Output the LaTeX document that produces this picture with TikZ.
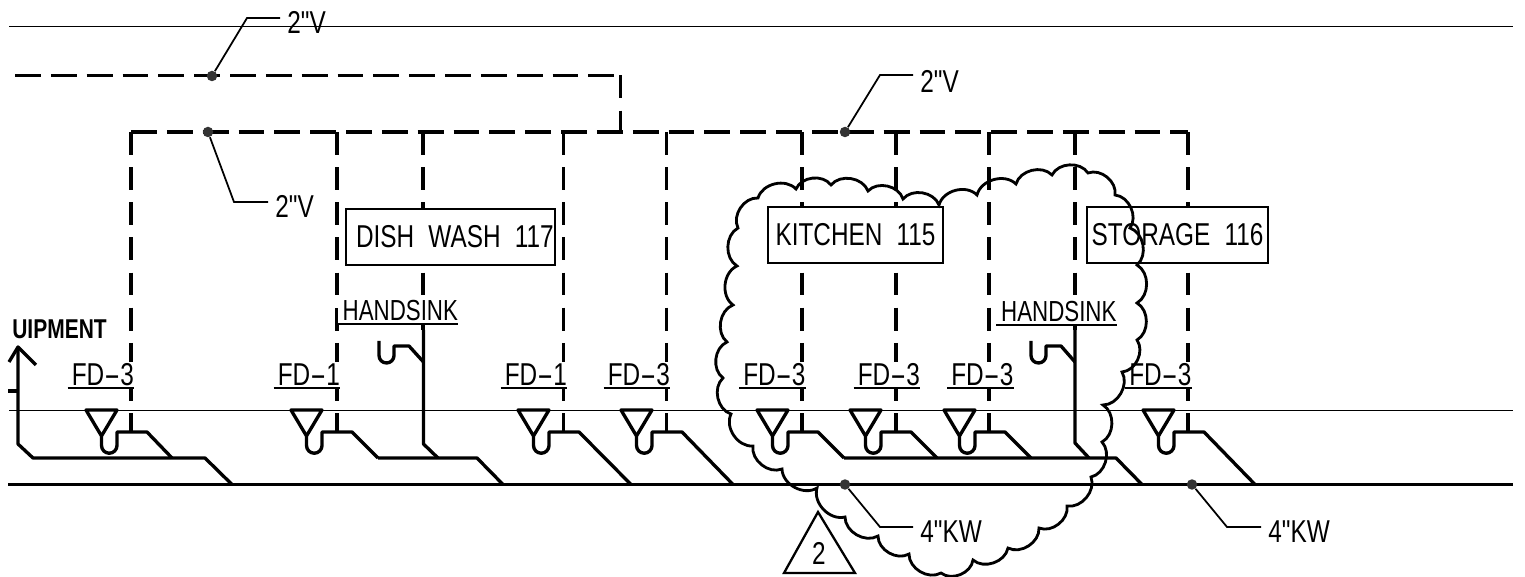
\documentclass[tikz,border=0pt]{standalone}
\usepackage{fontspec}
\usepackage{tikz}
\newfontfamily\cadfont[FakeStretch=0.77,WordSpace=2.1]{Liberation Sans}
\tikzset{
    thinline/.style={line width=0.5pt},
    vent/.style={line width=1.75pt, dash pattern=on 13pt off 7pt},
    ventrun/.style={line width=1.75pt, dash pattern=on 14.7pt off 5.7pt},
    pipe/.style={line width=1.9pt, line join=round},
    mainpipe/.style={line width=2.1pt},
    leader/.style={line width=1pt},
    cloudline/.style={line width=1.6pt, line join=miter},
    roombox/.style={shape=rectangle, draw=black, line width=1.2pt, fill=white, inner sep=0pt, font=\cadfont\fontsize{18}{20}\selectfont, minimum height=1.12cm},
    fdlabel/.style={fill=white, inner sep=0pt, font=\cadfont\fontsize{18}{20}\selectfont, text width=1.32cm, align=right, minimum height=0.52cm},
    sinklabel/.style={fill=white, inner sep=0pt, font=\cadfont\fontsize{16.5}{20}\selectfont, text width=2.4cm, align=right, minimum height=0.52cm},
    sizelabel/.style={inner sep=4pt, anchor=west, font=\cadfont\fontsize{18}{20}\selectfont},
    pipedot/.style={shape=circle, fill=black!80, inner sep=0pt, minimum size=0.21cm},
    underrule/.style={line width=1.1pt}
}
\begin{document}
\begin{tikzpicture}[x=0.02cm, y=-0.02cm]
    \useasboundingbox (0,0) rectangle (1525,577);
    \draw[thinline] (9,26) -- (1513,26);
    \draw[thinline] (9,410) -- (1513,410);
    \draw[ventrun] (15,75.5) -- (620.5,75.5);
    \draw[vent] (620.5,75.5) -- (620.5,132);
    \draw[ventrun] (131,132) -- (1188,132);
    \draw[vent] (131,132) -- (131,432);
    \draw[vent] (337,132) -- (337,432);
    \draw[vent] (423,132) -- (423,330);
    \draw[vent] (563.5,132) -- (563.5,432);
    \draw[vent] (666.5,132) -- (666.5,432);
    \draw[vent] (802,132) -- (802,432);
    \draw[vent] (896,132) -- (896,432);
    \draw[vent] (989,132) -- (989,432);
    \draw[vent] (1075,132) -- (1075,330);
    \draw[vent] (1188,132) -- (1188,432);
    \node[roombox, minimum width=4.18cm] at (450.5,237) (dishwash) {\hspace{5pt}DISH WASH 117};
    \node[roombox, minimum width=3.5cm] at (855.5,235) (kitchen) {KITCHEN 115};
    \node[roombox, minimum width=3.62cm] at (1177.5,235) (storage) {STORAGE 116};
    \node[sinklabel] at (398,311) (sink1) {HANDSINK};
    \node[sinklabel] at (1056.5,312) (sink2) {HANDSINK};
    \node[fdlabel] at (101,375) (fd1) {FD\scalebox{2}[1]{-}3};
    \node[fdlabel] at (307,375) (fd2) {FD\scalebox{2}[1]{-}1};
    \node[fdlabel] at (534,375) (fd3) {FD\scalebox{2}[1]{-}1};
    \node[fdlabel] at (637,375) (fd4) {FD\scalebox{2}[1]{-}3};
    \node[fdlabel] at (772.5,375) (fd5) {FD\scalebox{2}[1]{-}3};
    \node[fdlabel] at (887,375) (fd6) {FD\scalebox{2}[1]{-}3};
    \node[fdlabel] at (980.5,375) (fd7) {FD\scalebox{2}[1]{-}3};
    \node[fdlabel] at (1158.5,375) (fd8) {FD\scalebox{2}[1]{-}3};
    \draw[underrule] (sink1.south west) -- (sink1.south east);
    \draw[underrule] (sink2.south west) -- (sink2.south east);
    \draw[underrule] (fd1.south west) -- (fd1.south east);
    \draw[underrule] (fd2.south west) -- (fd2.south east);
    \draw[underrule] (fd3.south west) -- (fd3.south east);
    \draw[underrule] (fd4.south west) -- (fd4.south east);
    \draw[underrule] (fd5.south west) -- (fd5.south east);
    \draw[underrule] (fd6.south west) -- (fd6.south east);
    \draw[underrule] (fd7.south west) -- (fd7.south east);
    \draw[underrule] (fd8.south west) -- (fd8.south east);
    \draw[mainpipe] (8,484.5) -- (1513,484.5);
    \coordinate (J1) at (172,458);
    \coordinate (J2) at (378,458);
    \coordinate (J3) at (631,484.5);
    \coordinate (J4) at (733,484.5);
    \coordinate (J5) at (844,458);
    \coordinate (J6) at (937,458);
    \coordinate (J7) at (1031,458);
    \coordinate (J8) at (1255,484.5);
    \draw[pipe] (18,347) -- (18,444) -- (33,458) -- (205,458) -- (232,484.5);
    \draw[pipe] (9,362) -- (18,347) -- (36,365);
    \draw[pipe] (8,391) -- (18,391);
    \draw[pipe] (J2) -- (477,458) -- (503,484.5);
    \draw[pipe] (J5) -- (1116,458) -- (1142,484.5);
    \draw[pipe] (423.5,330) -- (423.5,444) -- (438,458);
    \draw[pipe] (1075,330) -- (1075,443) -- (1089,458);
    \draw[pipe] (379,341) -- (379,355.5) arc[start angle=180, end angle=0, radius=7.5] -- (394,346) -- (409,346) -- (423.5,362);
    \draw[pipe] (1031,341) -- (1031,355.5) arc[start angle=180, end angle=0, radius=7.5] -- (1046,346) -- (1061,346) -- (1075,362);
    \draw[pipe] (86,410) -- ++(31,0) -- ++(-15.5,26) -- cycle (101.5,436) -- ++(0,9.5) arc[start angle=180, end angle=0, radius=7.75] -- ++(0,-13.5) -- ++(30,0) -- (J1);
    \draw[pipe] (291,410) -- ++(31,0) -- ++(-15.5,26) -- cycle (306.5,436) -- ++(0,9.5) arc[start angle=180, end angle=0, radius=7.75] -- ++(0,-13.5) -- ++(30,0) -- (J2);
    \draw[pipe] (518,410) -- ++(31,0) -- ++(-15.5,26) -- cycle (533.5,436) -- ++(0,9.5) arc[start angle=180, end angle=0, radius=7.75] -- ++(0,-13.5) -- ++(30,0) -- (J3);
    \draw[pipe] (621,410) -- ++(31,0) -- ++(-15.5,26) -- cycle (636.5,436) -- ++(0,9.5) arc[start angle=180, end angle=0, radius=7.75] -- ++(0,-13.5) -- ++(30,0) -- (J4);
    \draw[pipe] (757,410) -- ++(31,0) -- ++(-15.5,26) -- cycle (772.5,436) -- ++(0,9.5) arc[start angle=180, end angle=0, radius=7.75] -- ++(0,-13.5) -- ++(30,0) -- (J5);
    \draw[pipe] (850,410) -- ++(31,0) -- ++(-15.5,26) -- cycle (865.5,436) -- ++(0,9.5) arc[start angle=180, end angle=0, radius=7.75] -- ++(0,-13.5) -- ++(30,0) -- (J6);
    \draw[pipe] (944,410) -- ++(31,0) -- ++(-15.5,26) -- cycle (959.5,436) -- ++(0,9.5) arc[start angle=180, end angle=0, radius=7.75] -- ++(0,-13.5) -- ++(30,0) -- (J7);
    \draw[pipe] (1143,410) -- ++(31,0) -- ++(-15.5,26) -- cycle (1158.5,436) -- ++(0,9.5) arc[start angle=180, end angle=0, radius=7.75] -- ++(0,-13.5) -- ++(30,0) -- (J8);
    \node[font=\cadfont\bfseries\fontsize{15.5}{18}\selectfont, anchor=west, inner sep=0pt] at (12,329.5) (equip) {UIPMENT};
    \node[pipedot] at (212,76) (dot1) {};
    \node[pipedot] at (208,132) (dot2) {};
    \node[pipedot] at (845,132) (dot3) {};
    \node[pipedot] at (845,484.5) (dot4) {};
    \node[pipedot] at (1192,484.5) (dot5) {};
    \coordinate (E1) at (247,18);
    \coordinate (E2) at (234,202);
    \coordinate (E3) at (880,75);
    \coordinate (E4) at (880,527);
    \coordinate (E5) at (1227,527);
    \node[sizelabel] at (280,22) (size1) {2"V};
    \node[sizelabel] at (268,206) (size2) {2"V};
    \node[sizelabel] at (913,81) (size3) {2"V};
    \node[sizelabel] at (913,531.5) (size4) {4"KW};
    \node[sizelabel] at (1261,531.5) (size5) {4"KW};
    \draw[leader] (dot1) -- (E1) -- (E1 -| size1.west);
    \draw[leader] (dot2) -- (E2) -- (E2 -| size2.west);
    \draw[leader] (dot3) -- (E3) -- (E3 -| size3.west);
    \draw[leader] (dot4) -- (E4) -- (E4 -| size4.west);
    \draw[leader] (dot5) -- (E5) -- (E5 -| size5.west);
    \draw[cloudline] (738,228) to[bend left=60] (758,198) to[bend left=60] (796,189) to[bend left=60] (831,185) to[bend left=60] (868,191) to[bend left=60] (903,199) to[bend left=60] (939,205) to[bend left=60] (977,195) to[bend left=60] (1016,184) to[bend left=60] (1052,175) to[bend left=60] (1088,173) to[bend left=60] (1115,195) to[bend left=60] (1130,228) to[bend left=60] (1137,265) to[bend left=60] (1137,303) to[bend left=60] (1137,340) to[bend left=60] (1122,372) to[bend left=60] (1103,405) to[bend left=60] (1102,442) to[bend left=60] (1091,477) to[bend left=60] (1067,506) to[bend left=60] (1039,528) to[bend left=60] (1008,548) to[bend left=60] (973,560) to[bend left=60] (941,573) to[bend left=60] (909,554) to[bend left=60] (878,536) to[bend left=60] (845,517) to[bend left=60] (817,488) to[bend left=60] (782,469) to[bend left=60] (753,446) to[bend left=60] (731,414) to[bend left=60] (723,378) to[bend left=60] (727,342) to[bend left=60] (733,305) to[bend left=60] (737,266) to[bend left=60] cycle;
    \node[shape=rectangle, inner sep=0pt, font=\cadfont\fontsize{18}{20}\selectfont] at (819,553) (revnum) {2};
    \coordinate (T1) at (818,512);
    \coordinate (T2) at (855,573);
    \coordinate (T3) at (784,573);
    \draw[leader, line width=1.3pt, line join=miter] (T1) -- (T2) -- (T3) -- cycle;
\end{tikzpicture}
\end{document}
